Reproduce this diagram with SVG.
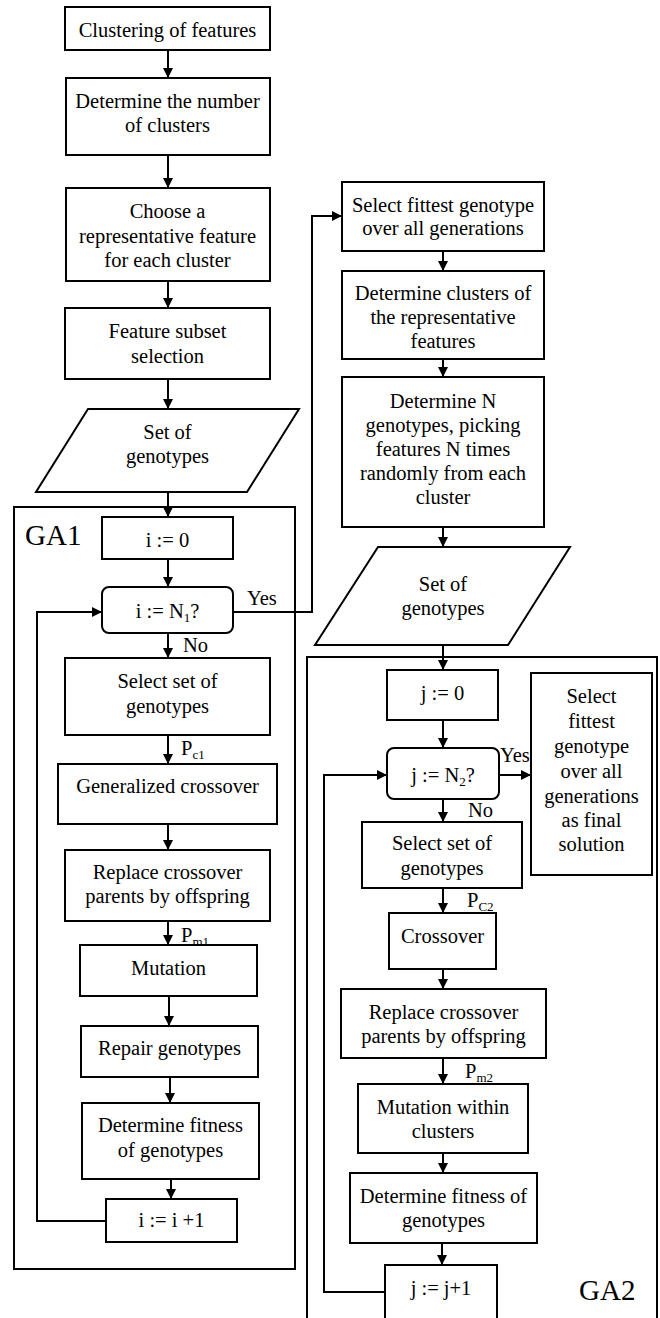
<svg xmlns="http://www.w3.org/2000/svg" width="660" height="1318" viewBox="0 0 660 1318">
<style>
.b{fill:#fff;stroke:#000;stroke-width:2}
.c{fill:none;stroke:#000;stroke-width:2}
.t{font-family:"Liberation Serif","Times New Roman",serif;font-size:20.5px;fill:#000;text-anchor:middle}
.l{font-family:"Liberation Serif","Times New Roman",serif;font-size:20.5px;fill:#000}
.g{font-family:"Liberation Serif","Times New Roman",serif;font-size:29px;fill:#000}
.s{font-size:13px}
.a{fill:none;stroke:#000;stroke-width:2;marker-end:url(#ah)}
</style>
<defs>
<marker id="ah" markerUnits="userSpaceOnUse" markerWidth="11" markerHeight="10" refX="10" refY="5" orient="auto">
<path d="M0,0 L10,5 L0,10 z" fill="#000"/>
</marker>
</defs>
<g id="containers">
<rect id="ga1" class="c" x="14" y="507" width="281" height="762"/>
<rect id="ga2" class="c" x="307" y="657" width="350" height="670"/>
<text class="g" x="25" y="545">GA1</text>
<text class="g" x="579" y="1300">GA2</text>
</g>
<g id="connectors">
<line class="a" x1="168" y1="50" x2="168" y2="78"/>
<line class="a" x1="168" y1="155" x2="168" y2="188"/>
<line class="a" x1="168" y1="281" x2="168" y2="308"/>
<line class="a" x1="168" y1="379" x2="168" y2="409"/>
<line class="a" x1="168" y1="492" x2="168" y2="517"/>
<line class="a" x1="168" y1="559" x2="168" y2="587"/>
<line class="a" x1="168" y1="633" x2="168" y2="658"/>
<line class="a" x1="168" y1="735" x2="168" y2="764"/>
<line class="a" x1="168" y1="824" x2="168" y2="850"/>
<line class="a" x1="168" y1="921" x2="168" y2="945"/>
<line class="a" x1="169" y1="996" x2="169" y2="1026"/>
<line class="a" x1="170" y1="1077" x2="170" y2="1103"/>
<line class="a" x1="171" y1="1179" x2="171" y2="1199"/>
<polyline class="a" points="106,1221 37,1221 37,612 102,612"/>
<polyline class="a" points="233,612 312,612 312,216 342,216"/>
<line class="a" x1="443" y1="251" x2="443" y2="271"/>
<line class="a" x1="443" y1="359" x2="443" y2="377"/>
<line class="a" x1="443" y1="527" x2="443" y2="547"/>
<line class="a" x1="443" y1="645" x2="443" y2="670"/>
<line class="a" x1="443" y1="720" x2="443" y2="748"/>
<line class="a" x1="499" y1="775" x2="531" y2="775"/>
<line class="a" x1="443" y1="799" x2="443" y2="822"/>
<line class="a" x1="443" y1="888" x2="443" y2="913"/>
<line class="a" x1="443" y1="969" x2="443" y2="989"/>
<line class="a" x1="443" y1="1058" x2="443" y2="1084"/>
<line class="a" x1="443" y1="1153" x2="443" y2="1173"/>
<line class="a" x1="442" y1="1243" x2="442" y2="1265"/>
<polyline class="a" points="385,1292 324,1292 324,775 387,775"/>
<text class="l" x="247" y="605">Yes</text>
<text class="l" x="183" y="652">No</text>
<text class="l" x="181" y="755">P<tspan class="s" dy="4">c1</tspan></text>
<text class="l" x="181" y="942">P<tspan class="s" dy="4">m1</tspan></text>
<text class="l" x="500" y="762">Yes</text>
<text class="l" x="468" y="817">No</text>
<text class="l" x="467" y="907">P<tspan class="s" dy="4">C2</tspan></text>
<text class="l" x="465" y="1078">P<tspan class="s" dy="4">m2</tspan></text>
</g>
<g id="n1"><rect class="b" x="65" y="7" width="205" height="43"/><text class="t" x="167.5" y="37">Clustering of features</text></g>
<g id="n2"><rect class="b" x="66" y="78" width="204" height="77"/><text class="t" x="167.5" y="108">Determine the number</text><text class="t" x="167.5" y="132">of clusters</text></g>
<g id="n3"><rect class="b" x="66" y="188" width="204" height="93"/><text class="t" x="167.5" y="218">Choose a</text><text class="t" x="167.5" y="243">representative feature</text><text class="t" x="167.5" y="267">for each cluster</text></g>
<g id="n4"><rect class="b" x="65" y="308" width="205" height="71"/><text class="t" x="167.5" y="338">Feature subset</text><text class="t" x="167.5" y="363">selection</text></g>
<g id="n5"><polygon class="b" points="88,409 299,409 247,492 36,492"/><text class="t" x="167.5" y="439">Set of</text><text class="t" x="167.5" y="463">genotypes</text></g>
<g id="n6"><rect class="b" x="102" y="517" width="131" height="42"/><text class="t" x="167.5" y="547">i := 0</text></g>
<g id="n7"><rect class="b" x="102" y="587" width="131" height="46" rx="7"/><text class="t" x="167.5" y="618">i := N<tspan class="s" dy="4">1</tspan><tspan dy="-4">?</tspan></text></g>
<g id="n8"><rect class="b" x="65" y="658" width="205" height="77"/><text class="t" x="167.5" y="688">Select set of</text><text class="t" x="167.5" y="713">genotypes</text></g>
<g id="n9"><rect class="b" x="58" y="764" width="219" height="60"/><text class="t" x="167.5" y="793">Generalized crossover</text></g>
<g id="n10"><rect class="b" x="65" y="850" width="205" height="71"/><text class="t" x="167.5" y="879">Replace crossover</text><text class="t" x="167.5" y="903">parents by offspring</text></g>
<g id="n11"><rect class="b" x="80" y="945" width="177" height="51"/><text class="t" x="168.5" y="975">Mutation</text></g>
<g id="n12"><rect class="b" x="81" y="1026" width="177" height="51"/><text class="t" x="169.5" y="1055">Repair genotypes</text></g>
<g id="n13"><rect class="b" x="82" y="1103" width="177" height="76"/><text class="t" x="170.5" y="1132">Determine fitness</text><text class="t" x="170.5" y="1157">of genotypes</text></g>
<g id="n14"><rect class="b" x="106" y="1199" width="131" height="43"/><text class="t" x="171.5" y="1227">i := i +1</text></g>
<g id="m1"><rect class="b" x="342" y="182" width="202" height="69"/><text class="t" x="443" y="212">Select fittest genotype</text><text class="t" x="443" y="235">over all generations</text></g>
<g id="m2"><rect class="b" x="342" y="271" width="202" height="88"/><text class="t" x="443" y="300">Determine clusters of</text><text class="t" x="443" y="324">the representative</text><text class="t" x="443" y="348">features</text></g>
<g id="m3"><rect class="b" x="342" y="377" width="202" height="150"/><text class="t" x="443" y="408">Determine N</text><text class="t" x="443" y="432">genotypes, picking</text><text class="t" x="443" y="456">features N times</text><text class="t" x="443" y="480">randomly from each</text><text class="t" x="443" y="504">cluster</text></g>
<g id="m4"><polygon class="b" points="378,547 570,547 508,645 315,645"/><text class="t" x="443" y="591">Set of</text><text class="t" x="443" y="615">genotypes</text></g>
<g id="m5"><rect class="b" x="387" y="670" width="111" height="50"/><text class="t" x="442.5" y="700">j := 0</text></g>
<g id="m6"><rect class="b" x="387" y="748" width="112" height="51" rx="7"/><text class="t" x="443" y="782">j := N<tspan class="s" dy="4">2</tspan><tspan dy="-4">?</tspan></text></g>
<g id="m7"><rect class="b" x="531" y="673" width="121" height="202"/><text class="t" x="591.5" y="703">Select</text><text class="t" x="591.5" y="728">fittest</text><text class="t" x="591.5" y="753">genotype</text><text class="t" x="591.5" y="778">over all</text><text class="t" x="591.5" y="803">generations</text><text class="t" x="591.5" y="827">as final</text><text class="t" x="591.5" y="851">solution</text></g>
<g id="m8"><rect class="b" x="362" y="822" width="160" height="66"/><text class="t" x="442" y="850">Select set of</text><text class="t" x="442" y="875">genotypes</text></g>
<g id="m9"><rect class="b" x="389" y="913" width="107" height="56"/><text class="t" x="442.5" y="943">Crossover</text></g>
<g id="m10"><rect class="b" x="341" y="989" width="205" height="69"/><text class="t" x="443.5" y="1019">Replace crossover</text><text class="t" x="443.5" y="1043">parents by offspring</text></g>
<g id="m11"><rect class="b" x="358" y="1084" width="170" height="69"/><text class="t" x="443" y="1114">Mutation within</text><text class="t" x="443" y="1138">clusters</text></g>
<g id="m12"><rect class="b" x="350" y="1173" width="187" height="70"/><text class="t" x="443.5" y="1203">Determine fitness of</text><text class="t" x="443.5" y="1227">genotypes</text></g>
<g id="m13"><rect class="b" x="385" y="1265" width="112" height="60"/><text class="t" x="441" y="1295">j := j+1</text></g>
</svg>
